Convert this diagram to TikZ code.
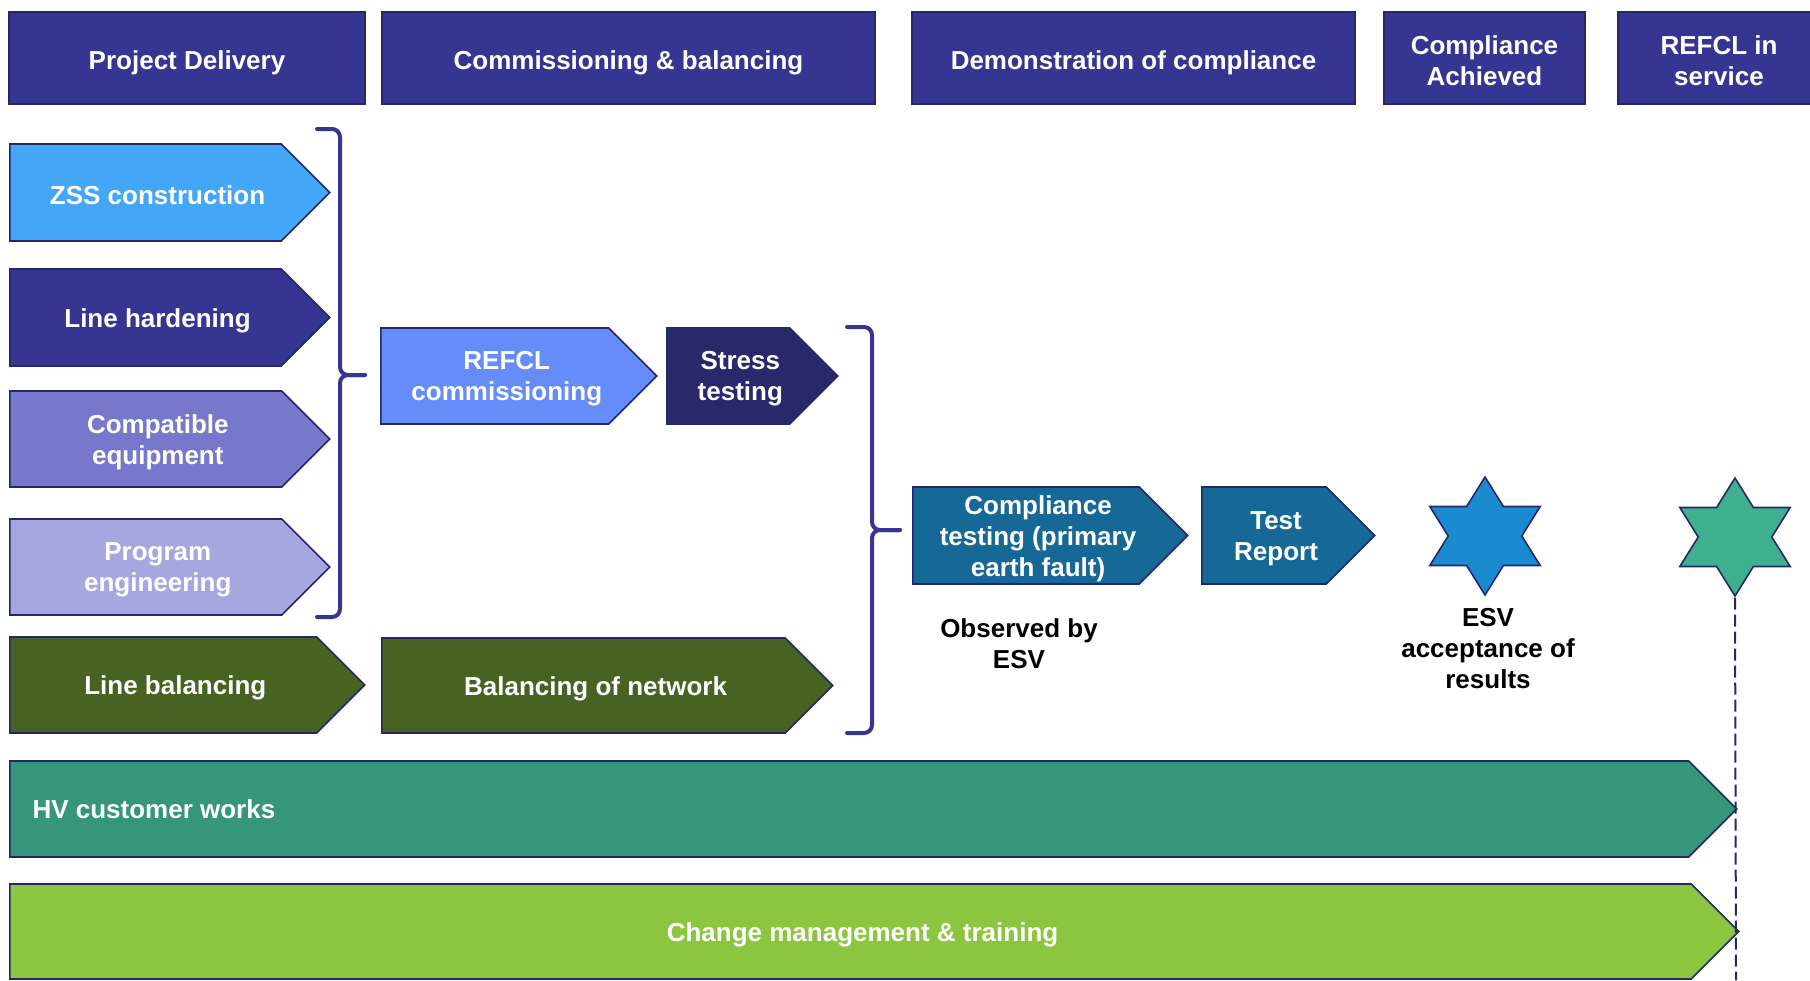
\documentclass[tikz,border=0pt]{standalone}
\usepackage{fontspec}
\setmainfont{Liberation Sans}
\usetikzlibrary{shapes.symbols}
\usetikzlibrary{shapes.geometric}

\definecolor{indigo}{HTML}{373592}
\definecolor{edge}{HTML}{26266A}
\definecolor{zsscol}{HTML}{44A6F6}
\definecolor{compatcol}{HTML}{7777CC}
\definecolor{progcol}{HTML}{A6A6E0}
\definecolor{olive}{HTML}{486321}
\definecolor{refclcol}{HTML}{668CFA}
\definecolor{stresscol}{HTML}{28286B}
\definecolor{testcol}{HTML}{166897}
\definecolor{esvcol}{HTML}{1B8BCF}
\definecolor{servcol}{HTML}{3FB08D}
\definecolor{hvcol}{HTML}{35967A}
\definecolor{changecol}{HTML}{8CC640}

\begin{document}
\begin{tikzpicture}[
  x=1pt, y=-1pt,
  font=\fontsize{26}{31}\selectfont\bfseries,
  head/.style={draw=edge, line width=1.5pt, fill=indigo, text=white,
    align=center, minimum height=92pt, inner sep=0pt,
    text depth=0pt, text height=22.5pt},
  tworow/.style={text height=55pt},
  chev/.style={signal, signal to=east, signal pointer angle=90, anchor=west,
    draw=edge, line width=1.6pt, minimum height=96pt, inner sep=0pt},
  chevtext/.style={text=white, align=center, yshift=-3pt},
  note/.style={text=black, align=center},
  hexstar/.style={star, star points=6, star point ratio=1.732,
    minimum size=118pt, inner sep=0pt, draw=edge, line width=1.6pt, xscale=1.08},
  bracket/.style={draw=indigo, line width=4pt, rounded corners=8pt, line cap=round},
]
  \useasboundingbox[fill=white] (0,0) rectangle (1810,980);

  % stage headers
  \node[head, minimum width=356pt] (h1) at (187,58) {Project Delivery};
  \node[head, minimum width=493pt] (h2) at (628.5,58) {Commissioning \& balancing};
  \node[head, minimum width=443pt] (h3) at (1133.5,58) {Demonstration of compliance};
  \node[head, tworow, minimum width=201pt] (h4) at (1484.5,58) {Compliance\\Achieved};
  \node[head, tworow, minimum width=202pt] (h5) at (1719,58) {REFCL in\\service};

  % project delivery
  \node[chev, fill=zsscol, minimum width=320pt, minimum height=97pt] (zss) at (9,192.5) {};
  \node[chevtext] (zss-t) at ([xshift=12pt]zss.center) {ZSS construction};
  \node[chev, fill=indigo, minimum width=320pt, minimum height=97pt] (hard) at (9,317.5) {};
  \node[chevtext] (hard-t) at ([xshift=12pt]hard.center) {Line hardening};
  \node[chev, fill=compatcol, minimum width=320pt] (compat) at (9,439) {};
  \node[chevtext] (compat-t) at ([xshift=12pt]compat.center) {Compatible\\equipment};
  \node[chev, fill=progcol, minimum width=320pt] (prog) at (9,567) {};
  \node[chevtext] (prog-t) at ([xshift=12pt]prog.center) {Program\\engineering};
  \node[chev, fill=olive, minimum width=355pt] (linebal) at (9,685) {};
  \node[chevtext] (linebal-t) at ([xshift=12pt]linebal.center) {Line balancing};

  % commissioning
  \node[chev, fill=refclcol, minimum width=276pt] (refcl) at (380,376) {};
  \node[chevtext] (refcl-t) at ([xshift=12pt]refcl.center) {REFCL\\commissioning};
  \node[chev, fill=stresscol, minimum width=171pt] (stress) at (666,376) {};
  \node[chevtext] (stress-t) at ([xshift=12pt]stress.center) {Stress\\testing};
  \node[chev, fill=olive, minimum width=451pt, minimum height=95pt] (netbal) at (381,685.5) {};
  \node[chevtext] (netbal-t) at ([xshift=12pt]netbal.center) {Balancing of network};

  % demonstration
  \node[chev, fill=testcol, minimum width=275pt, minimum height=97pt] (comptest) at (912,535.5) {};
  \node[chevtext] (comptest-t) at ([xshift=12pt]comptest.center) {Compliance\\testing (primary\\earth fault)};
  \node[chev, fill=testcol, minimum width=173pt, minimum height=97pt] (report) at (1201,535.5) {};
  \node[chevtext] (report-t) at ([xshift=12pt]report.center) {Test\\Report};
  \node[note] (observed) at (1019,643.5) {Observed by\\ESV};

  % milestones
  \node[hexstar, fill=esvcol] (accept) at (1485,536) {};
  \node[note] (accept-t) at (1488,649) {ESV\\acceptance of\\results};
  \node[hexstar, fill=servcol] (inservice) at (1735,537) {};

  % long running streams
  \node[chev, fill=hvcol, minimum width=1727pt] (hv) at (9,809) {};
  \node[chevtext, anchor=west, yshift=3pt] (hv-t) at (29,809) {HV customer works};
  \node[chev, fill=changecol, minimum width=1729pt, minimum height=95pt] (change) at (9,931.5) {};
  \node[chevtext] (change-t) at ([xshift=12pt]change.center) {Change management \& training};

  % brackets
  \coordinate (b1top) at (317,129);
  \coordinate (b1bot) at (317,617);
  \coordinate (b1mid) at (340,375);
  \coordinate (b1tip) at (365,375);
  \draw[bracket] (b1top) -| (b1mid) -- (b1tip);
  \draw[bracket] (b1bot) -| (b1mid) -- (b1tip);
  \coordinate (b2top) at (847,327);
  \coordinate (b2bot) at (847,733);
  \coordinate (b2mid) at (872,530);
  \coordinate (b2tip) at (900,530);
  \draw[bracket] (b2top) -| (b2mid) -- (b2tip);
  \draw[bracket] (b2bot) -| (b2mid) -- (b2tip);

  \coordinate (floor) at (1736,980);
  \draw[edge, line width=2pt, dash pattern=on 12pt off 5pt] (inservice.south) -- (floor);
\end{tikzpicture}
\end{document}
